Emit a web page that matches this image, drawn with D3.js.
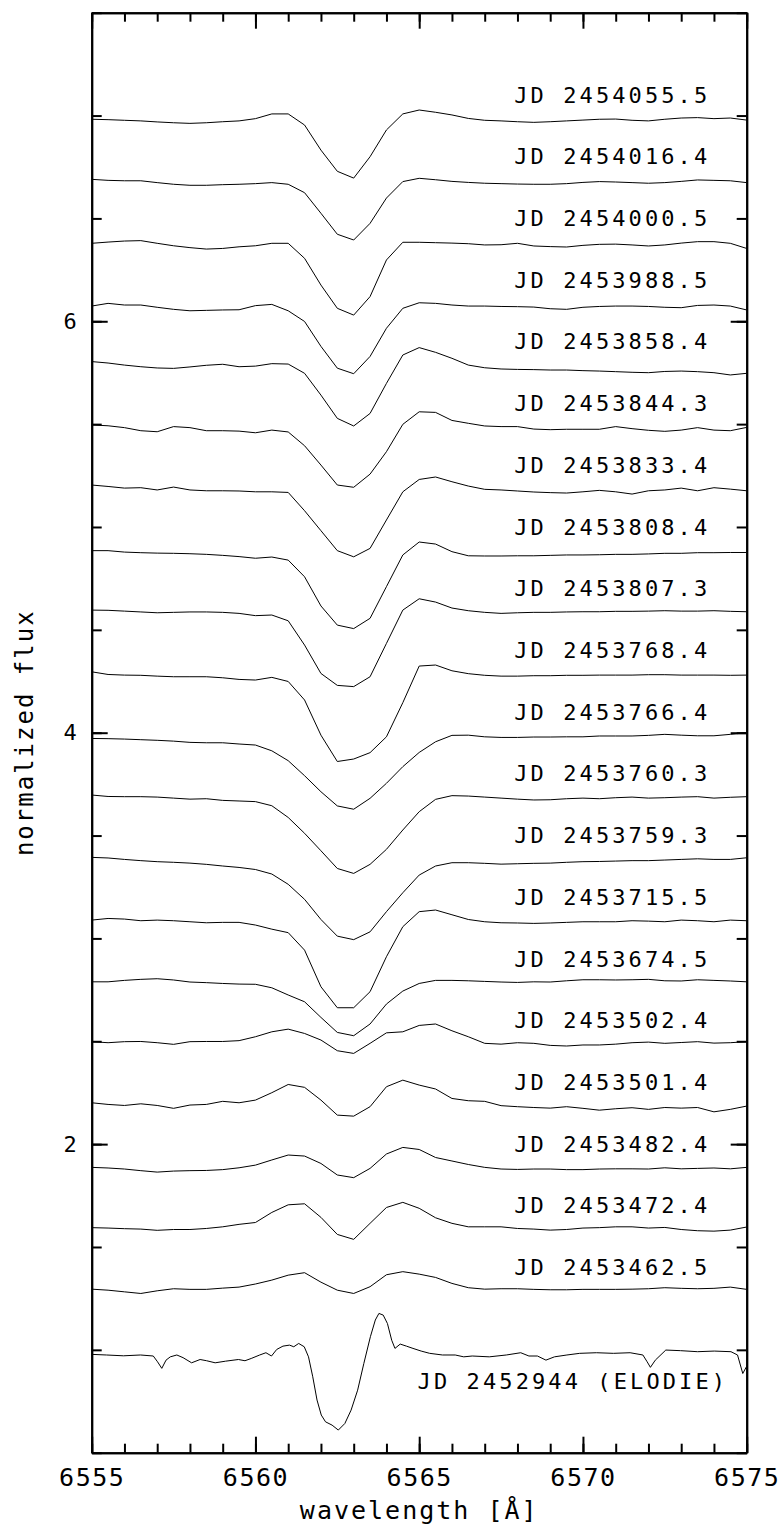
<!DOCTYPE html>
<html>
<head>
<meta charset="utf-8">
<script src="https://cdn.jsdelivr.net/npm/d3@7"></script>
<style>
  body { margin: 0; background: #fff; }
  text { font-family: "DejaVu Sans Mono", monospace; fill: #000; }
</style>
</head>
<body>
<div id="chart"></div>
<script>
// wavelength grid of the low resolution spectra [A]
const wave = [6555, 6555.5, 6556, 6556.5, 6557, 6557.5, 6558, 6558.5, 6559, 6559.5,
  6560, 6560.5, 6561, 6561.5, 6562, 6562.5, 6563, 6563.5, 6564, 6564.5,
  6565, 6565.5, 6566, 6566.5, 6567, 6567.5, 6568, 6568.5, 6569, 6569.5,
  6570, 6570.5, 6571, 6571.5, 6572, 6572.5, 6573, 6573.5, 6574, 6574.5, 6575];

const labels = ["JD 2454055.5", "JD 2454016.4", "JD 2454000.5", "JD 2453988.5", "JD 2453858.4",
  "JD 2453844.3", "JD 2453833.4", "JD 2453808.4", "JD 2453807.3", "JD 2453768.4",
  "JD 2453766.4", "JD 2453760.3", "JD 2453759.3", "JD 2453715.5", "JD 2453674.5",
  "JD 2453502.4", "JD 2453501.4", "JD 2453482.4", "JD 2453472.4", "JD 2453462.5"];

// vertical shift added to each normalized spectrum
const offsets = [6.0, 5.7, 5.4, 5.1, 4.8, 4.5, 4.2, 3.9, 3.6, 3.3,
  3.0, 2.7, 2.4, 2.1, 1.8, 1.5, 1.2, 0.9, 0.6, 0.3];

// normalized flux, one array per night
const f2454055 = [0.982,0.980,0.977,0.974,0.969,0.965,0.962,0.965,0.970,0.974,0.985,1.008,1.008,0.954,0.832,0.729,0.696,0.800,0.930,1.008,1.027,1.016,1.003,0.986,0.977,0.974,0.970,0.967,0.970,0.974,0.978,0.982,0.983,0.977,0.974,0.982,0.988,0.990,0.985,0.988,0.978];
const f2454016 = [0.990,0.985,0.983,0.983,0.974,0.966,0.961,0.961,0.964,0.966,0.969,0.974,0.966,0.925,0.825,0.723,0.695,0.776,0.899,0.979,0.995,0.988,0.980,0.975,0.971,0.969,0.967,0.966,0.966,0.969,0.975,0.979,0.977,0.974,0.971,0.974,0.980,0.987,0.985,0.983,0.974];
const f2454000 = [0.979,0.985,0.990,0.992,0.979,0.967,0.958,0.951,0.954,0.962,0.967,0.979,0.979,0.906,0.776,0.663,0.630,0.720,0.898,0.984,0.984,0.982,0.980,0.977,0.971,0.972,0.979,0.966,0.963,0.961,0.969,0.974,0.975,0.971,0.966,0.971,0.980,0.987,0.987,0.979,0.954];
const f2453988 = [0.974,0.987,0.979,0.979,0.968,0.958,0.951,0.953,0.955,0.956,0.976,0.982,0.951,0.899,0.778,0.672,0.645,0.729,0.866,0.963,0.990,0.987,0.979,0.974,0.974,0.972,0.971,0.969,0.961,0.958,0.968,0.972,0.974,0.974,0.972,0.968,0.966,0.977,0.979,0.974,0.955];
const f2453858 = [1.004,0.997,0.987,0.979,0.973,0.971,0.978,0.986,0.991,0.979,0.982,0.994,0.992,0.947,0.841,0.728,0.691,0.752,0.898,1.036,1.072,1.049,1.020,0.987,0.974,0.968,0.966,0.965,0.963,0.963,0.960,0.958,0.955,0.952,0.950,0.956,0.958,0.955,0.950,0.939,0.947];
const f2453844 = [0.996,0.992,0.983,0.968,0.963,0.988,0.983,0.968,0.968,0.966,0.958,0.971,0.962,0.895,0.801,0.704,0.693,0.757,0.866,0.999,1.060,1.057,1.018,1.004,0.991,0.988,0.988,0.976,0.973,0.975,0.975,0.975,0.988,0.978,0.970,0.965,0.971,0.983,0.971,0.968,0.984];
const f2453833 = [1.004,0.997,0.989,0.991,0.980,0.994,0.980,0.976,0.976,0.975,0.971,0.971,0.968,0.879,0.782,0.685,0.655,0.696,0.834,0.971,1.031,1.043,1.020,0.999,0.983,0.980,0.975,0.970,0.967,0.965,0.971,0.978,0.971,0.960,0.976,0.980,0.989,0.976,0.991,0.984,0.976];
const f2453808 = [0.985,0.985,0.978,0.975,0.973,0.972,0.970,0.967,0.962,0.956,0.948,0.954,0.939,0.858,0.716,0.623,0.606,0.656,0.810,0.964,1.027,1.017,0.980,0.960,0.959,0.959,0.960,0.960,0.962,0.964,0.964,0.965,0.967,0.967,0.969,0.972,0.972,0.975,0.975,0.976,0.976];
const f2453807 = [0.996,0.995,0.991,0.987,0.983,0.985,0.987,0.987,0.985,0.980,0.969,0.972,0.944,0.826,0.688,0.630,0.624,0.672,0.834,0.996,1.051,1.035,1.006,0.993,0.985,0.980,0.983,0.985,0.985,0.987,0.988,0.988,0.990,0.990,0.991,0.993,0.991,0.991,0.993,0.990,0.988];
const f2453768 = [0.996,0.983,0.980,0.979,0.975,0.972,0.972,0.972,0.967,0.959,0.956,0.969,0.949,0.859,0.688,0.560,0.572,0.603,0.680,0.846,1.024,1.029,1.001,0.987,0.979,0.975,0.975,0.977,0.977,0.979,0.979,0.980,0.980,0.980,0.982,0.982,0.980,0.980,0.980,0.979,0.980];
const f2453766 = [0.972,0.971,0.969,0.966,0.963,0.959,0.953,0.951,0.951,0.945,0.940,0.912,0.864,0.791,0.713,0.644,0.628,0.681,0.754,0.835,0.904,0.956,0.987,0.988,0.980,0.977,0.977,0.979,0.979,0.980,0.980,0.984,0.984,0.984,0.987,0.992,0.988,0.985,0.985,0.992,1.000];
const f2453760 = [0.997,0.990,0.989,0.989,0.987,0.982,0.977,0.979,0.971,0.968,0.965,0.945,0.888,0.811,0.726,0.640,0.616,0.660,0.733,0.827,0.916,0.976,0.994,0.992,0.987,0.982,0.977,0.973,0.974,0.979,0.982,0.979,0.984,0.987,0.982,0.984,0.987,0.989,0.982,0.986,0.989];
const f2453759 = [0.994,0.991,0.984,0.978,0.973,0.970,0.966,0.960,0.952,0.945,0.935,0.913,0.863,0.790,0.692,0.611,0.594,0.632,0.730,0.822,0.908,0.952,0.968,0.968,0.965,0.961,0.963,0.965,0.966,0.970,0.973,0.974,0.976,0.978,0.978,0.981,0.984,0.987,0.984,0.984,0.992];
const f2453715 = [0.989,0.997,0.994,0.986,0.989,0.986,0.981,0.976,0.978,0.978,0.965,0.945,0.928,0.843,0.665,0.563,0.563,0.641,0.811,0.957,1.030,1.038,1.015,0.992,0.981,0.976,0.975,0.973,0.975,0.978,0.981,0.981,0.981,0.986,0.984,0.981,0.989,0.986,0.981,0.989,0.986];
const f2453674 = [0.989,0.989,0.996,1.001,1.004,0.998,0.988,0.985,0.981,0.978,0.977,0.960,0.925,0.892,0.816,0.743,0.727,0.784,0.881,0.944,0.981,0.996,0.996,0.994,0.991,0.988,0.986,0.989,0.988,0.994,0.999,0.999,0.998,0.999,1.001,0.994,0.993,0.999,0.996,0.993,0.989];
const f2453502 = [0.998,0.993,0.998,0.999,0.993,0.985,0.998,0.999,0.999,1.003,1.022,1.046,1.059,1.038,1.006,0.954,0.941,0.990,1.041,1.046,1.077,1.084,1.051,1.022,0.990,0.986,0.993,0.990,0.980,0.977,0.982,0.982,0.986,0.993,0.996,0.990,0.994,0.998,0.991,0.993,0.998];
const f2453501 = [1.001,0.993,0.988,0.996,0.988,0.974,0.990,0.993,1.008,1.001,1.014,1.050,1.090,1.076,1.014,0.941,0.936,0.982,1.079,1.111,1.087,1.068,1.022,1.011,1.008,0.987,0.982,0.978,0.975,0.982,0.974,0.965,0.972,0.977,0.969,0.978,0.975,0.978,0.957,0.969,0.985];
const f2453482 = [0.987,0.984,0.979,0.971,0.964,0.969,0.971,0.972,0.976,0.985,0.998,1.023,1.047,1.042,1.006,0.950,0.937,0.982,1.052,1.084,1.074,1.035,1.018,1.001,0.987,0.979,0.977,0.979,0.979,0.976,0.976,0.979,0.980,0.980,0.979,0.985,0.980,0.982,0.984,0.980,0.987];
const f2453472 = [0.994,0.992,0.989,0.987,0.981,0.985,0.985,0.990,0.998,1.010,1.019,1.068,1.105,1.110,1.044,0.961,0.937,1.015,1.092,1.117,1.088,1.042,1.015,0.998,0.998,0.998,0.990,0.987,0.982,0.985,0.992,0.994,0.998,0.998,0.992,0.995,0.985,0.979,0.977,0.982,0.997];
const f2453462 = [0.995,0.990,0.982,0.974,0.987,0.997,0.994,0.994,1.000,1.005,1.020,1.039,1.063,1.075,1.029,0.990,0.974,1.007,1.065,1.080,1.068,1.052,1.023,1.002,0.995,0.997,0.997,0.994,0.992,0.992,0.994,0.994,0.994,0.995,0.997,1.002,0.999,0.997,0.999,1.005,0.994];

const spectra = [f2454055, f2454016, f2454000, f2453988, f2453858, f2453844, f2453833,
  f2453808, f2453807, f2453768, f2453766, f2453760, f2453759, f2453715, f2453674,
  f2453502, f2453501, f2453482, f2453472, f2453462];

// high resolution ELODIE spectrum, no offset
const elodieLabel = "JD 2452944 (ELODIE)";
const elodieWave = [6555.00,6555.45,6555.97,6556.49,6556.88,6557.01,6557.14,6557.27,6557.40,6557.60,
  6557.79,6558.05,6558.31,6558.51,6558.77,6559.09,6559.48,6559.68,6559.87,6560.13,
  6560.32,6560.49,6560.65,6560.84,6561.04,6561.17,6561.32,6561.49,6561.62,6561.75,
  6561.88,6562.01,6562.14,6562.34,6562.53,6562.73,6562.92,6563.12,6563.31,6563.51,
  6563.66,6563.77,6563.90,6564.03,6564.16,6564.26,6564.42,6564.61,6564.81,6565.06,
  6565.32,6565.71,6566.10,6566.36,6566.62,6567.14,6567.66,6568.10,6568.35,6568.61,
  6568.87,6569.13,6569.51,6569.90,6570.41,6570.93,6571.44,6571.83,6571.96,6572.06,
  6572.21,6572.53,6572.98,6573.50,6574.01,6574.52,6574.72,6574.88,6575.00];
const elodieFlux = [0.978,0.975,0.971,0.975,0.970,0.942,0.910,0.950,0.966,0.975,
  0.962,0.937,0.953,0.947,0.937,0.945,0.953,0.947,0.958,0.975,
  0.986,0.970,1.002,1.018,1.023,1.015,1.031,1.015,0.966,0.869,
  0.756,0.683,0.650,0.634,0.610,0.642,0.707,0.804,0.934,1.064,
  1.145,1.177,1.169,1.128,1.047,1.007,1.028,1.018,1.007,0.994,
  0.983,0.975,0.975,0.966,0.970,0.966,0.975,0.986,0.970,0.970,
  0.950,0.966,0.975,0.983,0.986,0.983,0.986,0.975,0.942,0.915,
  0.950,0.999,0.996,0.991,0.994,0.991,0.975,0.885,0.920];

const xMajor = [6555, 6560, 6565, 6570, 6575];
const yMajor = [2, 4, 6];

const width = 782, height = 1528;
const margin = { top: 12.7, right: 35.3, bottom: 75.3, left: 91.7 };

const svg = d3.select("#chart")
    .append("svg")
    .attr("width", width)
    .attr("height", height);

const x = d3.scaleLinear()
    .domain([6555, 6575])
    .range([margin.left, width - margin.right]);

const y = d3.scaleLinear()
    .domain([0.5, 7.5])
    .range([height - margin.bottom, margin.top]);

const x0 = x.range()[0], x1 = x.range()[1];
const y0 = y.range()[0], y1 = y.range()[1];
const fmt = d3.format("d");

// Draw frame: minor ticks, then major ticks, all pointing inward
function styleAxis(g, size) {
    g.attr("font-family", "DejaVu Sans Mono").attr("font-size", size);
    g.selectAll("path.domain").attr("stroke-width", 2);
    g.selectAll(".tick line").attr("stroke-width", 2);
}

svg.append("g")
    .attr("transform", `translate(0,${y0})`)
    .call(d3.axisBottom(x).tickValues(x.ticks(20)).tickSize(-9).tickSizeOuter(0).tickFormat(""))
    .call(styleAxis, 25);
svg.append("g")
    .attr("transform", `translate(0,${y0})`)
    .call(d3.axisBottom(x).tickValues(xMajor).tickSize(-16).tickSizeOuter(0).tickPadding(16).tickFormat(fmt))
    .call(styleAxis, 25)
    .selectAll("text").attr("letter-spacing", "1.5px");

svg.append("g")
    .attr("transform", `translate(0,${y1})`)
    .call(d3.axisTop(x).tickValues(x.ticks(20)).tickSize(-9).tickSizeOuter(0).tickFormat(""))
    .call(styleAxis, 25);
svg.append("g")
    .attr("transform", `translate(0,${y1})`)
    .call(d3.axisTop(x).tickValues(xMajor).tickSize(-16).tickSizeOuter(0).tickFormat(""))
    .call(styleAxis, 25);

svg.append("g")
    .attr("transform", `translate(${x0},0)`)
    .call(d3.axisLeft(y).tickValues(y.ticks(14)).tickSize(-10).tickSizeOuter(0).tickFormat(""))
    .call(styleAxis, 22);
svg.append("g")
    .attr("transform", `translate(${x0},0)`)
    .call(d3.axisLeft(y).tickValues(yMajor).tickSize(-16).tickSizeOuter(0).tickPadding(15).tickFormat(fmt))
    .call(styleAxis, 22);

svg.append("g")
    .attr("transform", `translate(${x1},0)`)
    .call(d3.axisRight(y).tickValues(y.ticks(14)).tickSize(-10).tickSizeOuter(0).tickFormat(""))
    .call(styleAxis, 22);
svg.append("g")
    .attr("transform", `translate(${x1},0)`)
    .call(d3.axisRight(y).tickValues(yMajor).tickSize(-16).tickSizeOuter(0).tickFormat(""))
    .call(styleAxis, 22);

// Axis titles
svg.append("text")
    .attr("x", (x0 + x1) / 2)
    .attr("y", 1519)
    .attr("text-anchor", "middle")
    .attr("font-size", 25)
    .attr("letter-spacing", "2px")
    .text("wavelength [Å]");

svg.append("text")
    .attr("transform", `translate(33,${(y0 + y1) / 2}) rotate(-90)`)
    .attr("text-anchor", "middle")
    .attr("font-size", 24)
    .attr("letter-spacing", "2px")
    .text("normalized flux");

// Draw spectra
svg.append("clipPath").attr("id", "plot")
    .append("rect")
    .attr("x", x0).attr("y", y1)
    .attr("width", x1 - x0).attr("height", y0 - y1);

const plot = svg.append("g").attr("clip-path", "url(#plot)");

spectra.forEach((f, i) => {
    plot.append("path")
        .datum(f)
        .attr("fill", "none")
        .attr("stroke", "#000")
        .attr("stroke-width", 1)
        .attr("d", d3.line()
            .x((d, j) => x(wave[j]))
            .y(d => y(d + offsets[i])));

    svg.append("text")
        .attr("x", x(6567.9))
        .attr("y", y(offsets[i] + 1.063))
        .attr("font-size", 22)
        .attr("letter-spacing", "3.1px")
        .text(labels[i]);
});

plot.append("path")
    .datum(elodieFlux)
    .attr("fill", "none")
    .attr("stroke", "#000")
    .attr("stroke-width", 1)
    .attr("d", d3.line()
        .x((d, j) => x(elodieWave[j]))
        .y(d => y(d)));

svg.append("text")
    .attr("x", x(6564.95))
    .attr("y", y(0.81))
    .attr("font-size", 22)
    .attr("letter-spacing", "3.1px")
    .text(elodieLabel);
</script>
</body>
</html>
